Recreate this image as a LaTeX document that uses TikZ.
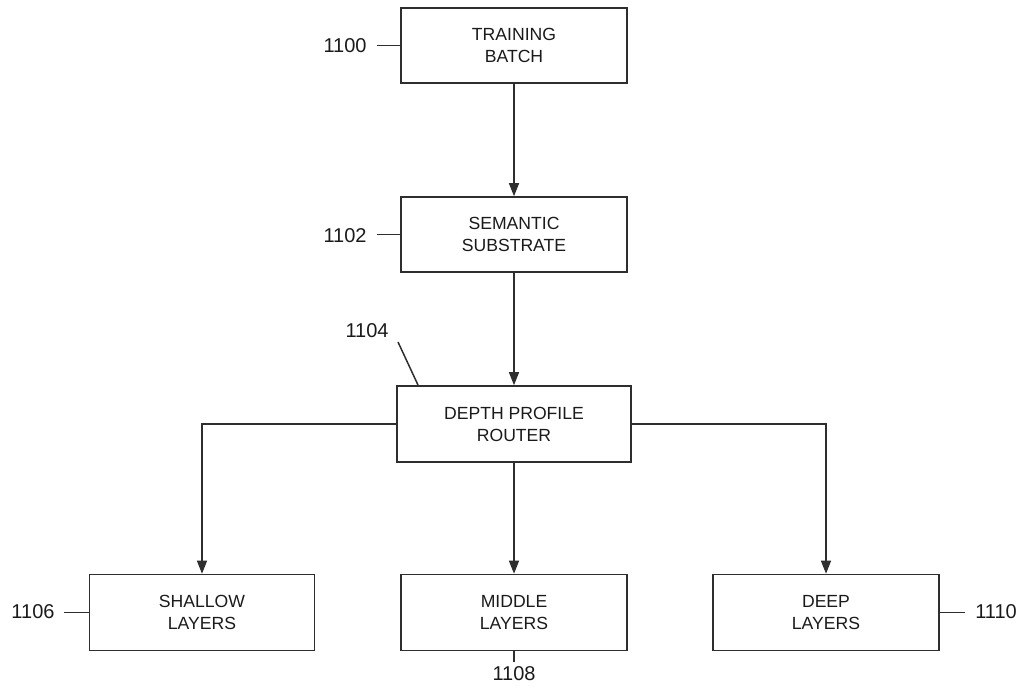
\documentclass[tikz,border=0pt]{standalone}
\usepackage{fontspec}
\setmainfont{Liberation Sans}
\usetikzlibrary{arrows.meta}
\definecolor{linec}{HTML}{2E2E2E}
\definecolor{textc}{HTML}{1A1A1A}
\begin{document}
\begin{tikzpicture}[x=1pt,y=-1pt,
  box/.style={draw=linec, line width=1.6pt, rectangle, minimum width=226pt, minimum height=75pt,
    align=center, text=textc, font=\fontsize{17.6}{22}\selectfont, inner sep=0pt},
  lbl/.style={text=textc, font=\fontsize{20}{22}\selectfont, inner sep=0pt},
  lead/.style={draw=linec, line width=1.5pt},
  arr/.style={draw=linec, line width=1.5pt, -{Triangle[length=13pt,width=10pt]}}]
\useasboundingbox (0,0) rectangle (1025,688);
\node[box] (train) at (514,45.5) {TRAINING\\BATCH};
\node[box] (sem) at (514,234.5) {SEMANTIC\\SUBSTRATE};
\node[box, minimum width=234pt, minimum height=76pt] (router) at (514,424) {DEPTH PROFILE\\ROUTER};
\node[box, minimum width=225pt, minimum height=76pt] (shallow) at (202,612.5) {SHALLOW\\LAYERS};
\node[box, minimum height=76pt] (middle) at (514,612.5) {MIDDLE\\LAYERS};
\node[box, minimum height=76pt] (deep) at (826,612.5) {DEEP\\LAYERS};

\draw[arr] (train) -- (sem);
\draw[arr] (sem) -- (router);
\draw[arr] (router) -- (middle);
\draw[arr] (router.west) -| (shallow.north);
\draw[arr] (router.east) -| (deep.north);

\node[lbl] (n1100) at (345,46) {1100};
\coordinate (c1100) at (377,45.5);
\draw[lead] (c1100) -- (train.west);
\node[lbl] (n1102) at (345,236) {1102};
\coordinate (c1102) at (377,234.5);
\draw[lead] (c1102) -- (sem.west);
\node[lbl] (n1104) at (367,331) {1104};
\coordinate (c1104a) at (398,342);
\coordinate (c1104b) at (418,385);
\draw[lead] (c1104a) -- (c1104b);
\node[lbl] (n1106) at (33,612) {1106};
\coordinate (c1106) at (64,612.5);
\draw[lead] (c1106) -- (shallow.west);
\node[lbl] (n1108) at (514,674) {1108};
\coordinate (c1108) at (514,662);
\draw[lead] (middle.south) -- (c1108);
\node[lbl] (n1110) at (996,612) {1110};
\coordinate (c1110) at (965,612.5);
\draw[lead] (deep.east) -- (c1110);
\end{tikzpicture}
\end{document}
